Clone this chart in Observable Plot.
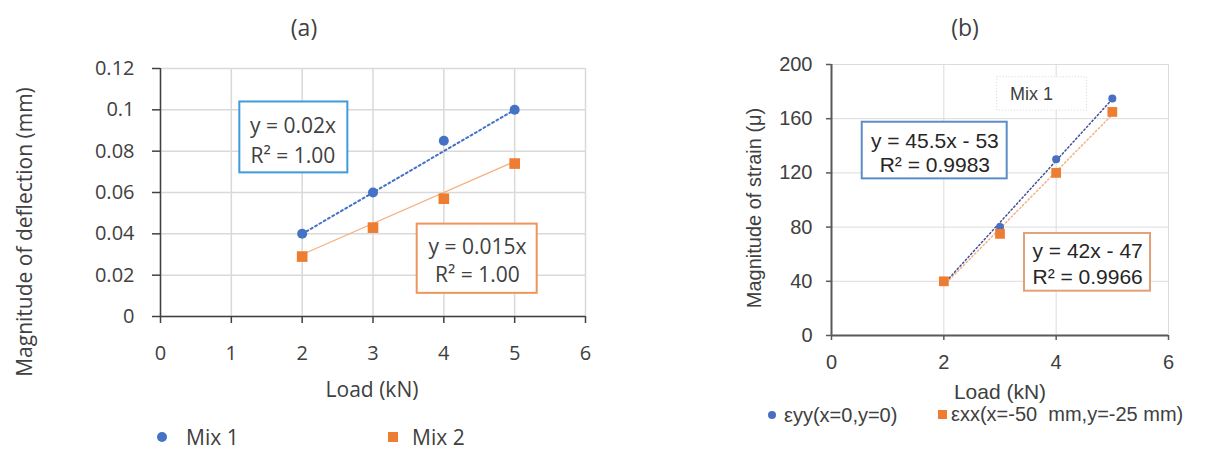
<!DOCTYPE html>
<html>
<head>
<meta charset="utf-8">
<script src="https://cdn.jsdelivr.net/npm/d3@7"></script>
<script src="https://cdn.jsdelivr.net/npm/@observablehq/plot@0.6"></script>
<style>
  html, body { margin: 0; padding: 0; background: #fff; }
  #wrap { position: relative; width: 1210px; height: 450px; overflow: hidden; background: #fff; }
  .abs { position: absolute; white-space: pre; line-height: 1; }
  .fa { font-family: "Open Sans", sans-serif; color: #404040; }
  .fb { font-family: "Liberation Sans", Arial, sans-serif; color: #404040; }
  .c { transform: translate(-50%, -50%); }
  .rot { transform: translate(-50%, -50%) rotate(-90deg); }
  .mk { position: absolute; }
</style>
</head>
<body>
<div id="wrap">
  <div id="plotA" class="abs" style="left:0;top:45px"></div>
  <div id="plotB" class="abs" style="left:740px;top:45px"></div>

  <div class="abs fa c" style="left:304px;top:27px;font-size:23px">(a)</div>
  <div class="abs fa c" style="left:965px;top:27px;font-size:23px">(b)</div>

  <div class="abs fa rot" style="left:24px;top:232px;font-size:21px">Magnitude of deflection (mm)</div>
  <div class="abs fa c" style="left:372px;top:389px;font-size:21px">Load (kN)</div>

  <div class="abs fb rot" style="left:754px;top:208px;font-size:20px">Magnitude of strain (μ)</div>
  <div class="abs fb c" style="left:1000px;top:391px;font-size:21px">Load (kN)</div>

  <div id="legA"></div>
  <div id="legB"></div>
</div>
<script>
// ---------- data: panel (a) ----------
const loadA = [2, 3, 4, 5];
const mix1 = [0.04, 0.06, 0.085, 0.1];
const mix2 = [0.029, 0.043, 0.057, 0.074];
const trendXA = [2, 5];
const trendMix1 = [0.04, 0.1];
const trendMix2 = [0.03, 0.075];
const xTicksA = [0, 1, 2, 3, 4, 5, 6];
const yTicksA = [0, 0.02, 0.04, 0.06, 0.08, 0.1, 0.12];
const seriesA = ["Mix 1", "Mix 2"];
const eqA1 = "y = 0.02x\nR² = 1.00";
const eqA2 = "y = 0.015x\nR² = 1.00";

// ---------- data: panel (b) ----------
const loadB = [2, 3, 4, 5];
const eyy = [40, 80, 130, 175];
const exx = [40, 75, 120, 165];
const trendXB = [2, 5];
const trendEyy = [38, 174.5];
const trendExx = [37, 163];
const xTicksB = [0, 2, 4, 6];
const yTicksB = [0, 40, 80, 120, 160, 200];
const seriesB = ["εyy(x=0,y=0)", "εxx(x=-50  mm,y=-25 mm)"];
const eqB1 = "y = 45.5x - 53\nR² = 0.9983";
const eqB2 = "y = 42x - 47\nR² = 0.9966";
const noteB = "Mix 1";

const BLUE = "#4472C4", ORANGE = "#ED7D31";

// ---------- panel (a) ----------
const plotA = Plot.plot({
  width: 610, height: 365,
  marginLeft: 160, marginRight: 25, marginTop: 23, marginBottom: 94,
  style: { fontFamily: "'Open Sans', sans-serif", color: "#404040", background: "transparent", overflow: "visible" },
  x: { domain: [0, 6] },
  y: { domain: [0, 0.12] },
  marks: [
    Plot.gridX(xTicksA, { stroke: "#d9d9d9", strokeOpacity: 1, strokeWidth: 1.5 }),
    Plot.gridY(yTicksA, { stroke: "#d9d9d9", strokeOpacity: 1, strokeWidth: 1.5 }),
    Plot.ruleX([0], { stroke: "#404040", strokeWidth: 1.5 }),
    Plot.ruleY([0], { stroke: "#404040", strokeWidth: 1.5 }),
    Plot.axisX(xTicksA, { tickSize: 7, tickPadding: 22, fontSize: 20, stroke: "#404040", fill: "#404040", strokeWidth: 1.5, label: null }),
    Plot.axisY(yTicksA, { tickSize: 8, tickPadding: 18, fontSize: 20, stroke: "#404040", fill: "#404040", strokeWidth: 1.5, label: null,
      tickFormat: d => String(+d.toFixed(2)) }),
    Plot.rect([0], { x1: [1.12], x2: [2.645], y1: [0.1038], y2: [0.0695], fill: "white", stroke: "#3E9CD8", strokeWidth: 2 }),
    Plot.rect([0], { x1: [3.624], x2: [5.318], y1: [0.0447], y2: [0.0112], fill: "white", stroke: "#F0955A", strokeWidth: 2 }),
    Plot.text([0], { x: [1.87], y: [0.0862], text: [eqA1], fontSize: 21, lineHeight: 1.42, fill: "#404040" }),
    Plot.text([0], { x: [4.475], y: [0.0277], text: [eqA2], fontSize: 21, lineHeight: 1.3, fill: "#404040" }),
    Plot.line(trendXA, { x: trendXA, y: trendMix1, stroke: BLUE, strokeWidth: 2, strokeDasharray: "2,3" }),
    Plot.line(trendXA, { x: trendXA, y: trendMix2, stroke: "#F4B183", strokeWidth: 1.3 }),
    Plot.dot(loadA, { x: loadA, y: mix1, r: 5, fill: BLUE }),
    Plot.dot(loadA, { x: loadA, y: mix2, r: 6, symbol: "square", fill: ORANGE })
  ]
});
document.getElementById("plotA").append(plotA);

// ---------- panel (b) ----------
const plotB = Plot.plot({
  width: 470, height: 365,
  marginLeft: 91, marginRight: 42, marginTop: 19, marginBottom: 75,
  style: { fontFamily: "'Liberation Sans', Arial, sans-serif", color: "#404040", background: "transparent", overflow: "visible" },
  x: { domain: [0, 6] },
  y: { domain: [0, 200] },
  marks: [
    Plot.gridX(xTicksB, { stroke: "#dcdcdc", strokeOpacity: 1, strokeWidth: 1 }),
    Plot.gridY(yTicksB, { stroke: "#dcdcdc", strokeOpacity: 1, strokeWidth: 1 }),
    Plot.ruleX([0], { stroke: "#595959", strokeWidth: 2 }),
    Plot.ruleY([0], { stroke: "#595959", strokeWidth: 2 }),
    Plot.axisX(xTicksB, { tickSize: 5, tickPadding: 14, fontSize: 20, stroke: "#595959", fill: "#404040", strokeWidth: 1.5, label: null }),
    Plot.axisY(yTicksB, { tickSize: 5, tickPadding: 14, fontSize: 20, stroke: "#595959", fill: "#404040", strokeWidth: 1.5, label: null }),
    Plot.rect([0], { x1: [2.95], x2: [4.55], y1: [190.6], y2: [166], fill: "white", stroke: "#d4d4d4", strokeWidth: 1, strokeDasharray: "1,2" }),
    Plot.text([0], { x: [3.56], y: [178.2], text: [noteB], fontSize: 18, fill: "#404040" }),
    Plot.rect([0], { x1: [0.547], x2: [3.128], y1: [157.4], y2: [115.6], fill: "white", stroke: "#5B8DC6", strokeWidth: 2 }),
    Plot.rect([0], { x1: [3.436], x2: [5.68], y1: [75.3], y2: [32.7], fill: "white", stroke: "#E2A07A", strokeWidth: 2 }),
    Plot.text([0], { x: [1.84], y: [135.5], text: [eqB1], fontSize: 21, lineHeight: 1.15, fill: "#262626" }),
    Plot.text([0], { x: [4.56], y: [53.5], text: [eqB2], fontSize: 21, lineHeight: 1.22, fill: "#262626" }),
    Plot.line(trendXB, { x: trendXB, y: trendExx, stroke: "#F4B183", strokeWidth: 1.5, strokeDasharray: "1.5,2.5" }),
    Plot.line(trendXB, { x: trendXB, y: trendEyy, stroke: "#44509A", strokeWidth: 1.5, strokeDasharray: "1.5,2.5" }),
    Plot.dot(loadB, { x: loadB, y: eyy, r: 4, fill: "#4A6FC0" }),
    Plot.dot(loadB, { x: loadB, y: exx, r: 5.5, symbol: "square", fill: ORANGE })
  ]
});
document.getElementById("plotB").append(plotB);

// ---------- legends ----------
function legendItem(parent, cls, shape, color, size, cx, cy, textX, label, fontSize) {
  const m = document.createElement("div");
  m.className = "mk";
  m.style.cssText = `left:${cx - size / 2}px;top:${cy - size / 2}px;width:${size}px;height:${size}px;background:${color};` +
    (shape === "circle" ? "border-radius:50%;" : "");
  parent.append(m);
  const t = document.createElement("div");
  t.className = "abs " + cls;
  t.style.cssText = `left:${textX}px;top:${cy}px;font-size:${fontSize}px;transform:translateY(-50%);`;
  t.textContent = label;
  parent.append(t);
}
const legA = document.getElementById("legA");
legendItem(legA, "fa", "circle", BLUE, 10, 162, 437, 186, seriesA[0], 21);
legendItem(legA, "fa", "square", ORANGE, 10, 393, 437, 412, seriesA[1], 21);
const legB = document.getElementById("legB");
legendItem(legB, "fb", "circle", "#4A6FC0", 8, 772, 415, 784, seriesB[0], 20);
legendItem(legB, "fb", "square", ORANGE, 9, 942.5, 414, 951, seriesB[1], 20);
</script>
</body>
</html>
